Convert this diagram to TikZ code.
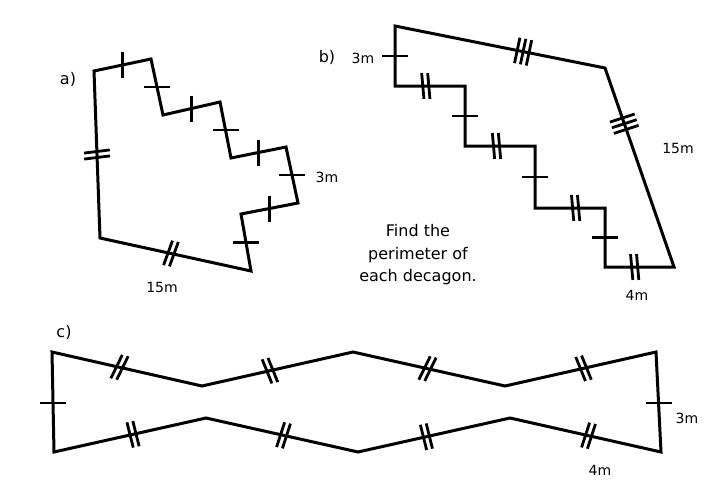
\documentclass[tikz,border=0pt]{standalone}
\usepackage{fontspec}
\setmainfont{DejaVu Sans}
\usetikzlibrary{calc}
\tikzset{
  shapeline/.style={line width=3pt, line join=miter, black},
  hatch/.style={line width=2.8pt, black},
  lbl/.style={font=\fontsize{14}{16}\selectfont, inner sep=0pt},
  tag/.style={font=\fontsize{16}{19}\selectfont, inner sep=0pt},
  note/.style={font=\fontsize{16}{22.5}\selectfont, align=center, inner sep=0pt},
}
% from, to, fraction, absolute angle, count
\newcommand{\hatchmark}[5]{%
  \path ($(#1)!#3!(#2)$) coordinate (hm);
  \foreach \k in {1,...,#5}{%
    \pgfmathsetmacro{\off}{(\k-(#5+1)/2)*6}%
    \draw[hatch] ($(hm)!\off pt!(#2)$) ++(#4:13pt) -- ++(#4+180:26pt);
  }%
}
\begin{document}
\begin{tikzpicture}[x=1pt,y=-1pt]
\useasboundingbox (0,0) rectangle (720,498);
% ---------- a) ----------
\coordinate (a1) at (94,71);
\coordinate (a2) at (151,59);
\coordinate (a3) at (163,115);
\coordinate (a4) at (220,102);
\coordinate (a5) at (231,158);
\coordinate (a6) at (286,147);
\coordinate (a7) at (298,203);
\coordinate (a8) at (241,214);
\coordinate (a9) at (251,271);
\coordinate (a10) at (100,238);
\draw[shapeline] (a1) -- (a2) -- (a3) -- (a4) -- (a5) -- (a6) -- (a7) -- (a8) -- (a9) -- (a10) -- cycle;
\hatchmark{a1}{a2}{0.5}{90}{1}
\hatchmark{a2}{a3}{0.5}{0}{1}
\hatchmark{a3}{a4}{0.5}{90}{1}
\hatchmark{a4}{a5}{0.5}{0}{1}
\hatchmark{a5}{a6}{0.5}{90}{1}
\hatchmark{a6}{a7}{0.5}{0}{1}
\hatchmark{a7}{a8}{0.5}{90}{1}
\hatchmark{a8}{a9}{0.5}{0}{1}
\hatchmark{a10}{a9}{0.47}{70}{2}
\hatchmark{a1}{a10}{0.5}{7}{2}
\node[tag] (la) at (68,79) {a)};
\node[lbl] (a3m) at (327,177) {3m};
\node[lbl] (a15) at (162,287) {15m};
% ---------- b) ----------
\coordinate (b1) at (395,26);
\coordinate (b2) at (605,68);
\coordinate (b3) at (674,267);
\coordinate (b4) at (605,267);
\coordinate (b5) at (605,208);
\coordinate (b6) at (535,208);
\coordinate (b7) at (535,146);
\coordinate (b8) at (465,146);
\coordinate (b9) at (465,86);
\coordinate (b10) at (395,86);
\draw[shapeline] (b1) -- (b2) -- (b3) -- (b4) -- (b5) -- (b6) -- (b7) -- (b8) -- (b9) -- (b10) -- cycle;
\hatchmark{b1}{b2}{0.61}{78}{3}
\hatchmark{b2}{b3}{0.28}{18}{3}
\hatchmark{b4}{b3}{0.43}{95}{2}
\hatchmark{b4}{b5}{0.5}{0}{1}
\hatchmark{b6}{b5}{0.58}{95}{2}
\hatchmark{b6}{b7}{0.5}{0}{1}
\hatchmark{b8}{b7}{0.45}{95}{2}
\hatchmark{b8}{b9}{0.5}{0}{1}
\hatchmark{b10}{b9}{0.44}{95}{2}
\hatchmark{b1}{b10}{0.5}{0}{1}
\node[tag] (lb) at (327,57) {b)};
\node[lbl] (b3m) at (363,58) {3m};
\node[lbl] (b15) at (678,148) {15m};
\node[lbl] (b4m) at (637,295) {4m};
\node[note] (q) at (418,255) {Find the\\perimeter of\\each decagon.};
% ---------- c) ----------
\coordinate (c1) at (52,352);
\coordinate (c2) at (202,386);
\coordinate (c3) at (353,352);
\coordinate (c4) at (505,386);
\coordinate (c5) at (656,352);
\coordinate (c6) at (661,452);
\coordinate (c7) at (510,418);
\coordinate (c8) at (358,452);
\coordinate (c9) at (206,418);
\coordinate (c10) at (54,452);
\draw[shapeline] (c1) -- (c2) -- (c3) -- (c4) -- (c5) -- (c6) -- (c7) -- (c8) -- (c9) -- (c10) -- cycle;
\hatchmark{c1}{c2}{0.45}{64}{2}
\hatchmark{c2}{c3}{0.45}{112}{2}
\hatchmark{c3}{c4}{0.49}{64}{2}
\hatchmark{c4}{c5}{0.52}{112}{2}
\hatchmark{c10}{c9}{0.52}{104}{2}
\hatchmark{c9}{c8}{0.51}{72}{2}
\hatchmark{c8}{c7}{0.45}{104}{2}
\hatchmark{c7}{c6}{0.52}{72}{2}
\hatchmark{c1}{c10}{0.51}{0}{1}
\hatchmark{c5}{c6}{0.51}{0}{1}
\node[tag] (lc) at (64,332) {c)};
\node[lbl] (c3m) at (687,418) {3m};
\node[lbl] (c4m) at (600,470) {4m};
\end{tikzpicture}
\end{document}
